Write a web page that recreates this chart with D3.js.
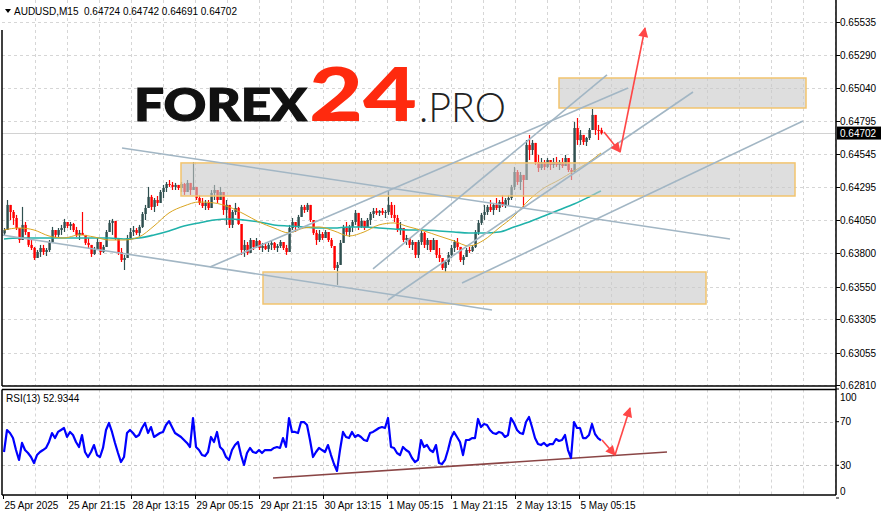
<!DOCTYPE html>
<html><head><meta charset="utf-8">
<script src="https://cdn.jsdelivr.net/npm/d3@7"></script>
<style>body{margin:0;background:#fff}svg{display:block}</style>
</head><body>
<svg id="c" width="883" height="518"></svg>
<script>
// ---------------- data ----------------
const symbolTitle = "AUDUSD,M15";
const ohlcHeader = ["0.64724", "0.64742", "0.64691", "0.64702"];
const lastPrice = 0.64702;
const priceTicks = [0.62810, 0.63055, 0.63305, 0.63550, 0.63800, 0.64050, 0.64295, 0.64545, 0.64795, 0.65040, 0.65290, 0.65535];
const timeLabels = ["25 Apr 2025", "25 Apr 21:15", "28 Apr 13:15", "29 Apr 05:15", "29 Apr 21:15", "30 Apr 13:15", "1 May 05:15", "1 May 21:15", "2 May 13:15", "5 May 05:15"];
const timeLabelBars = [0, 64, 128, 192, 256, 320, 384, 448, 512, 576]; // in M15 bars
const barsPerCandle = 3; // each drawn candle covers 3 M15 periods
// prices in points (price * 100000)
const firstOpen = 63950;
const closes = [
63975,64163,64110,64065,63990,63900,64013,63960,63863,63840,
63765,63810,63840,63810,63825,63885,63975,63938,63975,63990,
64035,64005,64020,63975,63938,63953,63938,63878,63863,63795,
63825,63885,63810,63848,63960,64028,64043,63915,63810,63750,
63765,63915,63960,63975,63953,63998,64095,64140,64223,64148,
64200,64178,64260,64290,64320,64313,64298,64313,64290,64320,
64260,64328,64275,64298,64215,64178,64155,64178,64140,64253,
64275,64200,64260,64125,64163,64013,64110,64140,64020,63825,
63863,63803,63900,63848,63893,63840,63855,63833,63863,63878,
63840,63855,63885,63840,63810,63990,64035,64005,64073,64148,
64125,64163,64050,63953,63900,63945,63915,63960,63900,63855,
63690,63713,63878,63990,63960,63998,64035,64103,63998,64043,
63990,64050,64095,64118,64103,64118,64103,64110,64163,64088,
64065,63975,63990,63900,63915,63863,63885,63788,63885,63953,
63863,63900,63825,63900,63788,63765,63690,63735,63788,63840,
63885,63848,63750,63773,63825,63818,63848,63960,64028,64088,
64110,64148,64125,64163,64140,64185,64163,64200,64215,64298,
64410,64335,64388,64350,64613,64575,64628,64485,64440,64485,
64448,64500,64463,64485,64463,64485,64455,64515,64425,64410,
64740,64650,64688,64635,64665,64725,64838,64725,64724,64702];
const highs = [
63990,64200,64148,64125,64088,63990,64148,64035,63960,63900,
63848,63825,63863,63863,63840,63900,63998,63975,63990,64013,
64058,64035,64035,64028,63998,63975,64110,63938,63915,63863,
63848,63915,63885,63863,63975,64050,64058,64035,63900,63840,
63788,63938,63990,64005,63990,64013,64110,64163,64298,64238,
64215,64230,64275,64313,64335,64350,64335,64328,64313,64335,
64328,64350,64328,64485,64275,64238,64215,64200,64200,64275,
64313,64275,64298,64238,64200,64163,64125,64178,64148,63990,
63900,63885,63915,63900,63915,63900,63878,63878,63878,63900,
63885,63870,63900,63885,63863,64013,64065,64035,64088,64163,
64163,64178,64140,64050,63975,63975,63960,63975,63960,63915,
63788,63735,63900,64013,64035,64013,64050,64125,64088,64065,
64035,64065,64110,64140,64140,64125,64140,64125,64275,64185,
64163,64088,64035,63975,63938,63915,63900,63863,63900,63975,
63960,63915,63900,63915,63863,63840,63765,63750,63810,63863,
63900,63915,63840,63788,63840,63848,63863,63975,64050,64103,
64163,64163,64200,64178,64215,64200,64238,64215,64238,64313,
64448,64425,64410,64388,64650,64688,64650,64613,64538,64515,
64500,64515,64500,64515,64523,64500,64515,64538,64500,64440,
64785,64815,64725,64688,64673,64740,64883,64838,64763,64742];
const lows = [
63938,64050,64050,64013,63975,63878,63900,63938,63848,63825,
63750,63765,63773,63788,63780,63810,63900,63915,63923,63938,
63960,63990,63975,63960,63923,63900,63938,63863,63840,63773,
63788,63825,63788,63803,63863,63960,63938,63900,63788,63735,
63675,63788,63900,63930,63938,63930,63990,64050,64163,64125,
64110,64155,64178,64215,64260,64298,64275,64275,64275,64260,
64238,64260,64238,64275,64200,64163,64140,64125,64125,64163,
64200,64178,64200,64088,64013,63990,63990,64088,64013,63788,
63773,63788,63825,63825,63840,63825,63810,63825,63810,63825,
63825,63810,63840,63825,63788,63900,63975,63960,63990,64088,
64103,64110,64035,63938,63863,63885,63900,63915,63885,63840,
63675,63563,63735,63900,63938,63923,63960,64013,63975,63990,
63975,63990,64013,64065,64088,64080,64088,64065,64088,64065,
64035,63960,63938,63885,63863,63840,63825,63765,63765,63863,
63840,63825,63810,63825,63765,63735,63675,63660,63713,63765,
63810,63825,63735,63713,63780,63803,63810,63840,63938,64013,
64050,64088,64110,64088,64125,64110,64148,64140,64163,64200,
64275,64313,64275,64140,64463,64500,64538,64463,64410,64425,
64425,64440,64425,64440,64448,64425,64440,64463,64410,64350,
64410,64613,64613,64613,64605,64650,64725,64688,64650,64691];
// moving averages sampled at candle indices
const maIdx = [0,5,10,15,20,25,30,35,40,45,50,55,60,65,70,75,80,85,90,95,100,105,110,115,120,125,130,135,140,145,150,155,160,165,170,175,180,185,190,195,199];
const maFast = [63975,63990,63975,63930,63915,63938,63923,63900,63900,63923,64005,64103,64155,64185,64178,64148,64095,64035,63990,63953,63990,63998,63968,63930,63960,64013,64028,63998,63968,63930,63893,63855,63900,63990,64080,64200,64290,64350,64418,64485,64553];
const maSlow = [63908,63915,63915,63915,63915,63915,63915,63915,63908,63915,63938,63968,64005,64028,64050,64058,64050,64035,64013,64005,63998,63990,63990,63998,63998,63990,63983,63975,63975,63968,63960,63953,63953,63960,63998,64035,64080,64125,64170,64223,64268];
const rsiTitle = "RSI(13) 52.9344";
const rsi = [
42.2,62.4,59.6,55.0,44.0,34.9,50.5,44.0,41.3,37.6,
32.1,39.4,42.2,44.0,45.9,51.4,59.6,55.0,60.6,62.4,
64.2,56.0,60.6,57.8,51.4,46.8,57.8,42.2,37.6,42.2,
48.6,39.4,37.6,45.9,62.4,68.8,60.6,50.5,41.3,33.0,
37.6,59.6,62.4,59.6,56.0,57.8,64.2,68.8,59.6,65.1,
56.0,57.8,59.6,60.6,67.0,70.6,65.1,59.6,57.8,56.0,
53.2,50.5,46.8,73.4,46.8,44.0,39.4,38.5,42.2,56.0,
51.4,60.6,46.8,44.0,37.6,34.9,44.0,48.6,51.4,39.4,
30.3,41.3,45.9,42.2,41.3,44.0,41.3,44.0,44.0,44.0,
45.9,46.8,45.9,55.0,46.8,73.4,60.6,60.6,59.6,
69.7,69.7,67.0,53.2,37.6,42.2,45.9,44.0,42.2,48.6,
39.4,31.2,24.8,44.0,60.6,56.0,55.0,60.6,56.0,57.8,
56.0,53.2,52.3,59.6,60.6,62.4,64.2,65.1,64.2,73.4,
46.8,45.9,41.3,39.4,46.8,44.0,42.2,36.7,33.0,34.9,
53.2,46.8,48.6,44.0,42.2,48.6,32.1,31.2,34.9,44.0,
55.0,60.6,56.0,51.4,39.4,53.2,53.2,55.0,55.0,72.5,
65.1,67.9,67.0,62.4,59.6,58.7,60.6,59.6,56.0,57.8,
73.4,68.8,62.4,59.6,58.7,69.7,74.3,65.1,55.0,49.5,
48.6,50.5,47.7,49.5,49.5,54.1,52.3,53.2,57.8,44.0,
36.7,69.7,64.2,64.2,55.0,55.0,57.8,67.9,58.7,55.0,
52.9];
const rsiLevels = [30, 70];
const rsiTicks = [100, 70, 30, 0];
// analysis drawings: [barStart, priceStart, barEnd, priceEnd] (bars in M15 units)
const zones = [[556, 0.65115, 803, 0.64890], [178, 0.64478, 792, 0.64230], [260, 0.63660, 703, 0.63420]];
const trendLines = [
  [119, 0.64590, 727, 0.63908],
  [-1, 0.63938, 489, 0.63375],
  [207, 0.63698, 625, 0.65040],
  [370, 0.63683, 604, 0.65138],
  [385, 0.63450, 690, 0.65010],
  [459, 0.63578, 800, 0.64793]];
const priceArrows = [[601, 0.64710, 617, 0.64560], [617, 0.64560, 642, 0.65490]];
const rsiTrend = [270, 18.3, 664, 42.2];
const rsiArrows = [[599, 53.2, 612, 39.4], [612, 39.4, 627, 82.6]];

// ---------------- layout ----------------
const svg = d3.select("#c");
const L = 2, R = 836, mainTop = 0, mainBot = 386, rsiTop = 389.5, rsiBot = 495;
const x = d3.scaleLinear().domain([0, 833]).range([3, 836]);
const y = d3.scaleLinear().domain([0.62810, 0.65535]).range([385.33, 22]);
const yr = d3.scaleLinear().domain([0, 100]).range([498, 389]);
const font = "'Liberation Sans', Arial, sans-serif";
const P = v => v / 100000;

const defs = svg.append("defs");
defs.append("clipPath").attr("id", "cm").append("rect").attr("x", L).attr("y", mainTop).attr("width", R - L).attr("height", mainBot - mainTop);
defs.append("clipPath").attr("id", "cr").append("rect").attr("x", L).attr("y", rsiTop).attr("width", R - L).attr("height", rsiBot - rsiTop);
defs.append("marker").attr("id", "ah").attr("viewBox", "0 0 10 10").attr("refX", 9).attr("refY", 5)
  .attr("markerUnits", "userSpaceOnUse").attr("markerWidth", 13).attr("markerHeight", 10).attr("orient", "auto")
  .append("path").attr("d", "M0,0L10,5L0,10z").attr("fill", "#ff4747");

// grid
const grid = svg.append("g").attr("stroke", "#d6d6d6").attr("stroke-dasharray", "3,3").attr("stroke-width", 1);
priceTicks.forEach(t => grid.append("line").attr("x1", L).attr("x2", R).attr("y1", Math.round(y(t)) + 0.5).attr("y2", Math.round(y(t)) + 0.5));
rsiLevels.forEach(t => grid.append("line").attr("x1", L).attr("x2", R).attr("y1", Math.round(yr(t)) + 0.5).attr("y2", Math.round(yr(t)) + 0.5).attr("stroke", "#c4c4c4"));
for (let m = 32; m < 833; m += 32) {
  const gx = Math.round(x(m)) + 0.5;
  grid.append("line").attr("x1", gx).attr("x2", gx).attr("y1", mainTop).attr("y2", mainBot);
  grid.append("line").attr("x1", gx).attr("x2", gx).attr("y1", rsiTop).attr("y2", rsiBot);
}

// logo
const logo = svg.append("g");
logo.append("text").attr("x", 134).attr("y", 121).attr("font-family", "Lato, Roboto, 'Open Sans', sans-serif").attr("font-weight", 900)
  .attr("font-size", 46).attr("fill", "#111").attr("stroke", "#111").attr("stroke-width", 1.2)
  .attr("textLength", 173).attr("lengthAdjust", "spacingAndGlyphs").text("FOREX");
logo.append("text").attr("x", 309).attr("y", 121).attr("font-family", "Lato, Roboto, 'Open Sans', sans-serif").attr("font-weight", 900)
  .attr("font-size", 74).attr("fill", "#ff2a0e").attr("textLength", 108).attr("lengthAdjust", "spacingAndGlyphs").text("24");
logo.append("text").attr("x", 419).attr("y", 122).attr("font-family", "Lato, 'Open Sans', Roboto, sans-serif").attr("font-weight", 300)
  .attr("font-size", 42).attr("fill", "#222").attr("textLength", 87).attr("lengthAdjust", "spacingAndGlyphs").text(".PRO");

// bid line
svg.append("line").attr("x1", L).attr("x2", R).attr("y1", Math.round(y(lastPrice)) + 0.5).attr("y2", Math.round(y(lastPrice)) + 0.5)
  .attr("stroke", "#d2d2d2").attr("stroke-width", 1);

// candles
const candles = closes.map((c, i) => {
  const o = i === 0 ? firstOpen : closes[i - 1];
  return {i, o: P(o), c: P(c), h: P(Math.max(highs[i], o, c)), l: P(Math.min(lows[i], o, c))};
});
const gc = svg.append("g").attr("clip-path", "url(#cm)");
const cx = d => x(d.i * barsPerCandle + 1);
gc.selectAll("line.w").data(candles).join("line")
  .attr("x1", d => Math.round(cx(d)) + 0.5).attr("x2", d => Math.round(cx(d)) + 0.5)
  .attr("y1", d => y(d.h)).attr("y2", d => y(d.l))
  .attr("stroke", d => d.c >= d.o ? "#2f4f4f" : "#ff0000").attr("stroke-width", 1.2);
gc.selectAll("rect.b").data(candles).join("rect")
  .attr("x", d => Math.round(cx(d)) - 0.6).attr("width", 2.4)
  .attr("y", d => y(Math.max(d.o, d.c))).attr("height", d => Math.max(1, Math.abs(y(d.o) - y(d.c))))
  .attr("fill", d => d.c >= d.o ? "#2f4f4f" : "#ff0000");

// moving averages
const maLine = arr => d3.line().x((v, k) => x(maIdx[k] * barsPerCandle + 1)).y(v => y(P(v))).curve(d3.curveMonotoneX)(arr);
gc.append("path").attr("d", maLine(maSlow)).attr("fill", "none").attr("stroke", "#20b2aa").attr("stroke-width", 1.6);
gc.append("path").attr("d", maLine(maFast)).attr("fill", "none").attr("stroke", "#daa520").attr("stroke-width", 1);

// zones
gc.selectAll("rect.z").data(zones).join("rect")
  .attr("x", d => x(d[0])).attr("y", d => y(d[1])).attr("width", d => x(d[2]) - x(d[0])).attr("height", d => y(d[3]) - y(d[1]))
  .attr("fill", "#c8c8c8").attr("fill-opacity", 0.6).attr("stroke", "#f2c46e").attr("stroke-width", 1.5);

// trend lines
gc.selectAll("line.t").data(trendLines).join("line")
  .attr("x1", d => x(d[0])).attr("y1", d => y(d[1])).attr("x2", d => x(d[2])).attr("y2", d => y(d[3]))
  .attr("stroke", "#a2b6c4").attr("stroke-width", 1.6);

// arrows
gc.selectAll("line.a").data(priceArrows).join("line")
  .attr("x1", d => x(d[0])).attr("y1", d => y(d[1])).attr("x2", d => x(d[2])).attr("y2", d => y(d[3]))
  .attr("stroke", "#ff4747").attr("stroke-width", 1.6).attr("marker-end", "url(#ah)");

// RSI
const gr = svg.append("g").attr("clip-path", "url(#cr)");
gr.append("line").attr("x1", x(rsiTrend[0])).attr("y1", yr(rsiTrend[1])).attr("x2", x(rsiTrend[2])).attr("y2", yr(rsiTrend[3]))
  .attr("stroke", "#8a4545").attr("stroke-width", 1.6);
gr.append("path").attr("d", d3.line().x((v, i) => x(i * barsPerCandle + 1)).y(v => yr(v))(rsi))
  .attr("fill", "none").attr("stroke", "#0000ff").attr("stroke-width", 2.2).attr("stroke-linejoin", "round");
gr.selectAll("line.a").data(rsiArrows).join("line")
  .attr("x1", d => x(d[0])).attr("y1", d => yr(d[1])).attr("x2", d => x(d[2])).attr("y2", d => yr(d[3]))
  .attr("stroke", "#ff4747").attr("stroke-width", 1.6).attr("marker-end", "url(#ah)");

// frames
const fr = svg.append("g").attr("stroke", "#000").attr("stroke-width", 1.5).attr("fill", "none");
fr.append("line").attr("x1", L).attr("x2", L).attr("y1", 30).attr("y2", mainBot);
fr.append("line").attr("x1", L).attr("x2", R).attr("y1", mainBot).attr("y2", mainBot);
fr.append("line").attr("x1", L).attr("x2", R).attr("y1", rsiTop).attr("y2", rsiTop);
fr.append("line").attr("x1", L).attr("x2", L).attr("y1", rsiTop).attr("y2", rsiBot);
fr.append("line").attr("x1", L).attr("x2", R).attr("y1", rsiBot).attr("y2", rsiBot);
fr.append("line").attr("x1", R).attr("x2", R).attr("y1", 0).attr("y2", rsiBot);

// price axis
const ya = svg.append("g").attr("font-family", font).attr("font-size", 10).attr("fill", "#000");
priceTicks.forEach(t => {
  const ty = Math.round(y(t)) + 0.5;
  ya.append("line").attr("x1", R).attr("x2", R + 4).attr("y1", ty).attr("y2", ty).attr("stroke", "#000");
  ya.append("text").attr("x", R + 4).attr("y", ty).attr("dy", "0.35em").text(t.toFixed(5));
});
const ly = y(lastPrice);
ya.append("rect").attr("x", R + 1).attr("y", ly - 6.5).attr("width", 44).attr("height", 13).attr("fill", "#000");
ya.append("text").attr("x", R + 4).attr("y", ly).attr("dy", "0.35em").attr("fill", "#fff").text(lastPrice.toFixed(5));
rsiTicks.forEach(t => {
  const ty = Math.min(Math.max(yr(t), 397), 491);
  ya.append("line").attr("x1", R).attr("x2", R + 3).attr("y1", yr(t)).attr("y2", yr(t)).attr("stroke", "#000");
  ya.append("text").attr("x", R + 4).attr("y", ty).attr("dy", "0.35em").text(t);
});

// time axis
const xa = svg.append("g").attr("font-family", font).attr("font-size", 10).attr("fill", "#000");
timeLabelBars.forEach((m, k) => {
  const tx = Math.round(x(m)) + 0.5;
  xa.append("line").attr("x1", tx).attr("x2", tx).attr("y1", rsiBot).attr("y2", rsiBot + 4).attr("stroke", "#000");
  xa.append("text").attr("x", tx + 1).attr("y", 509).text(timeLabels[k]);
});

// headers
svg.append("path").attr("d", "M5,9L11,9L8,13z").attr("fill", "#000");
svg.append("text").attr("x", 14).attr("y", 15).attr("font-family", font).attr("font-size", 10).attr("xml:space", "preserve")
  .text(symbolTitle + "  " + ohlcHeader.join(" "));
svg.append("text").attr("x", 6).attr("y", 402).attr("font-family", font).attr("font-size", 10).text(rsiTitle);
</script>
</body></html>
